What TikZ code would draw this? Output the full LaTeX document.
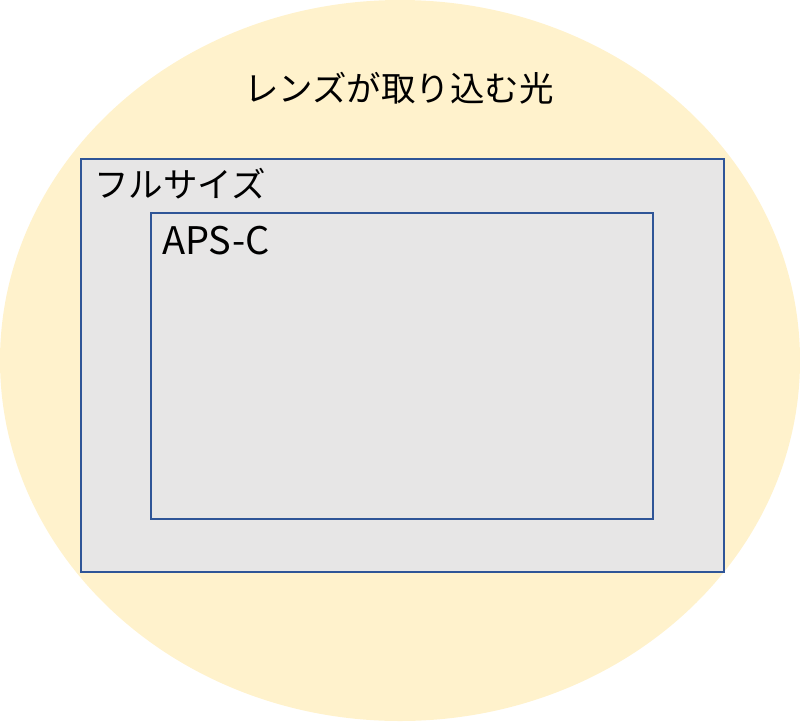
\documentclass[tikz,border=0pt]{standalone}
\usepackage{fontspec}
\setmainfont{Noto Sans CJK JP}
\begin{document}
\begin{tikzpicture}[x=1pt,y=-1pt,
  frame/.style={draw=framecol,line width=1.1pt,fill=rectfill},
  lbl/.style={inner sep=0pt,font=\fontsize{34.5}{34.5}\selectfont}]
\definecolor{lens}{HTML}{FFF2CC}
\definecolor{rectfill}{HTML}{E7E6E6}
\definecolor{framecol}{HTML}{2F5597}
\useasboundingbox (0,0) rectangle (800,721);
\fill[lens] (400,360.5) ellipse [x radius=400,y radius=360.5];
\node[frame,minimum width=643,minimum height=413,inner sep=0pt] (full) at (402.5,365.5) {};
\node[frame,minimum width=502,minimum height=306,inner sep=0pt] (apsc) at (402,366) {};
\node[lbl] (title) at (399,88) {レンズが取り込む光};
\node[lbl,anchor=west] (fulllbl) at (94,184) {フルサイズ};
\node[lbl,anchor=west,font=\fontsize{38}{38}\selectfont] (apsclbl) at (162,241) {APS-C};
\end{tikzpicture}
\end{document}
